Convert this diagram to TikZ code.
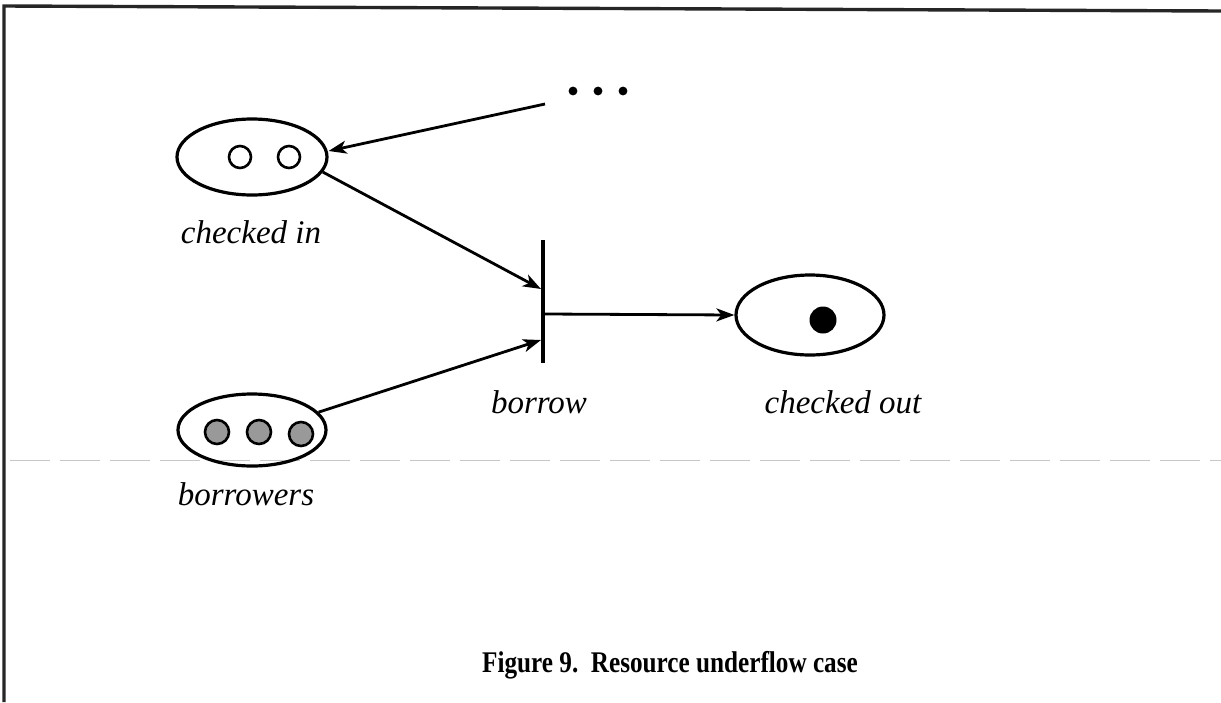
\documentclass[tikz,border=0pt]{standalone}
\usepackage{fontspec}
\setmainfont{Liberation Serif}
\usetikzlibrary{arrows.meta,shapes.geometric}
\begin{document}
\begin{tikzpicture}[x=1pt,y=-1pt,
  place/.style={draw,ellipse,line width=3.2pt,inner sep=0pt},
  token/.style={circle,draw,line width=2.6pt,inner sep=0pt,minimum size=22pt},
  shaded/.style={circle,draw,line width=2.6pt,fill=black!40,inner sep=0pt,minimum size=24pt},
  lbl/.style={anchor=base,inner sep=0pt,font=\fontsize{33}{36}\selectfont\itshape},
  arc/.style={line width=2.8pt,-{Stealth[length=18pt,width=13pt,inset=5pt]}},
  frame/.style={line width=3.4pt,black!85}]
\useasboundingbox (0,0) rectangle (1221,702);
% page frame
\draw[frame] (1221,11) -- (4,6) -- (4,702);
% faint fold line
\draw[black!22,line width=1pt,dash pattern=on 40pt off 10pt] (10,460) -- (1221,460);
% places
\node[place,minimum width=150pt,minimum height=76pt] (ci) at (252,157) {};
\node[place,minimum width=148pt,minimum height=80pt] (co) at (810,315) {};
\node[place,minimum width=148pt,minimum height=72pt] (bw) at (252,430) {};
% tokens
\node[token] (t1) at (240,157) {};
\node[token] (t2) at (289,157) {};
\node[circle,fill=black,inner sep=0pt,minimum size=27pt] (t3) at (823,320) {};
\node[shaded] (b1) at (217,432) {};
\node[shaded] (b2) at (259,432) {};
\node[shaded] (b3) at (301,434) {};
% transition bar
\coordinate (bt) at (543,240);
\coordinate (bb) at (543,363);
\draw[line width=3.2pt] (bt) -- (bb);
\coordinate (in1) at (541,289);
\coordinate (in2) at (541,340);
\coordinate (out) at (545,314);
% ellipsis
\foreach \x in {573,598,623} \fill (\x,91) circle (4.4pt);
\coordinate (more) at (545,104);
% labels
\node[lbl] (lci) at (251,243) {checked in};
\node[lbl] (lbw) at (246,505) {borrowers};
\node[lbl] (lbr) at (539,413) {borrow};
\node[lbl] (lco) at (843,413) {checked out};
\node[anchor=base,inner sep=0pt,font=\fontsize{30}{34}\selectfont\bfseries] (cap) at (670,672) {\scalebox{0.84}[1]{Figure 9.\ \ Resource underflow case}};
% arcs
\draw[arc] (more) -- (ci.east |- 0,151) ;
\draw[arc] (ci.-12) -- (in1);
\draw[arc] (bw.15) -- (in2);
\draw[arc] (out) -- (co.west);
\end{tikzpicture}
\end{document}
